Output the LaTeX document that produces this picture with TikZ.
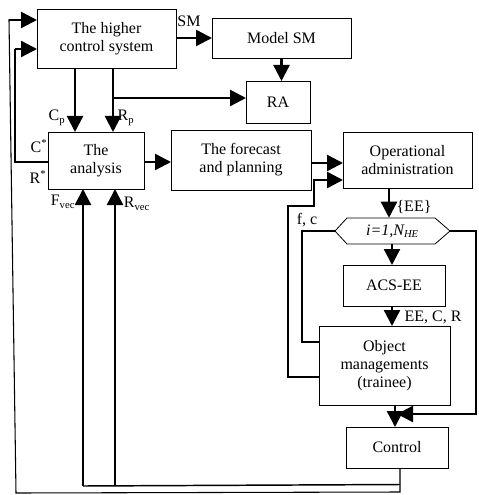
\documentclass[tikz,border=0pt]{standalone}
\usepackage{fontspec}
\setmainfont{Liberation Serif}
\usetikzlibrary{arrows.meta}
\begin{document}
\begin{tikzpicture}[x=0.75pt,y=-0.75pt,
  every node/.style={font=\fontsize{12}{13.5}\selectfont},
  box/.style={draw,line width=0.6pt,align=center,inner sep=0pt,outer sep=0pt},
  arr/.style={line width=1.8pt,-{Triangle[length=12pt,width=12pt]}},
  thinln/.style={line width=0.8pt},
  lbl/.style={inner sep=0pt}]
\useasboundingbox (0,0) rectangle (478,495);
% boxes
\node[box,minimum width=139*0.75pt,minimum height=59*0.75pt] (hcs) at (106.5,38.5) {The higher\\control system};
\node[box,minimum width=139*0.75pt,minimum height=40*0.75pt] (msm) at (281.5,38) {Model SM};
\node[box,minimum width=64*0.75pt,minimum height=42*0.75pt] (ra) at (278,102) {RA};
\node[box,minimum width=96*0.75pt,minimum height=57*0.75pt] (ana) at (96,160.5) {The\\analysis};
\node[box,minimum width=140*0.75pt,minimum height=60*0.75pt] (fp) at (241,160) {The forecast\\and planning};
\node[box,minimum width=129*0.75pt,minimum height=56*0.75pt] (op) at (407.5,160) {Operational\\administration};
\draw[line width=0.6pt] (335,231) -- (347,218) -- (435,218) -- (450,231) -- (435,244) -- (347,244) -- cycle;
\node[inner sep=0pt,minimum width=115*0.75pt,minimum height=26*0.75pt] (hex) at (392.5,231) {\textit{i=1,N\textsubscript{HE}}};
\node[box,minimum width=102*0.75pt,minimum height=41*0.75pt] (acs) at (394,285.5) {ACS-EE};
\node[box,minimum width=131*0.75pt,minimum height=79*0.75pt] (obj) at (384.5,365.5) {Object\\managements\\(trainee)};
\node[box,minimum width=102*0.75pt,minimum height=41*0.75pt] (ctl) at (397,447.5) {Control};
% labels
\node[lbl] (lsm) at (189,21) {SM};
\node[lbl] (lcp) at (57,118) {C\textsubscript{p}};
\node[lbl] (lrp) at (126,118) {R\textsubscript{p}};
\node[lbl] (lcs) at (39,146) {C\textsuperscript{*}};
\node[lbl] (lrs) at (38,177) {R\textsuperscript{*}};
\node[lbl] (lfv) at (63,202) {F\textsubscript{vec}};
\node[lbl] (lrv) at (137,204) {R\textsubscript{vec}};
\node[lbl] (lee) at (414,207) {\{EE\}};
\node[lbl] (lfc) at (307,220) {f, c};
\node[lbl] (leecr) at (433,317) {EE, C, R};
% connectors
\draw[arr] (hcs.east |- msm.west) -- (msm.west);
\draw[arr] (msm.south) -- (msm.south |- ra.north);
\draw[arr] (hcs.south -| 75,0) -- (ana.north -| 75,0);
\draw[arr] (hcs.south -| 113,0) -- (ana.north -| 113,0);
\coordinate (rpb) at (113,98);
\draw[arr] (rpb) -- (ra.west |- rpb);
% analysis feedback to higher system
\coordinate (lp1) at (15,162);
\coordinate (lp2) at (15,49);
\draw[thinln] (ana.west |- lp1) -- (lp1) -- (lp2);
\draw[arr] (lp2) -- (hcs.west |- lp2);
\draw[arr] (ana.east |- lp1) -- (fp.west |- lp1);
\coordinate (fpo) at (311,163);
\draw[arr] (fpo) -- (op.west |- fpo);
\draw[arr] (op.south -| 389,0) -- (hex.north -| 389,0);
\draw[arr] (hex.south -| 392,0) -- (acs.north -| 392,0);
\draw[arr] (acs.south -| 392,0) -- (obj.north -| 392,0);
\draw[arr] (obj.south -| 395,0) -- (ctl.north -| 395,0);
% hexagon right loop
\coordinate (hr1) at (476,231);
\coordinate (hr2) at (476,414);
\coordinate (hr3) at (397,414);
\draw[thinln] (hex.east) -- (hr1) -- (hr2) -- ++(-10,0);
\draw[arr] (466,414) -- (hr3);
% hexagon left loop
\coordinate (hl1) at (302,231);
\coordinate (hl2) at (302,342);
\draw[thinln] (hex.west) -- (hl1) -- (hl2) -- (obj.west |- hl2);
% f, c loop
\coordinate (fc1) at (288,377);
\coordinate (fc2) at (288,206);
\coordinate (fc3) at (314,206);
\coordinate (fc4) at (314,180);
\draw[thinln] (obj.west |- fc1) -- (fc1) -- (fc2) -- (fc3) -- (fc4) -- ++(6,0);
\draw[arr] (fc4) -- (op.west |- fc4);
% control outputs
\coordinate (cb1) at (400,484.5);
\coordinate (cb2) at (400,492);
\coordinate (cb3) at (16,493);
\coordinate (cb4) at (9,20);
\coordinate (fvb) at (83,486);
\coordinate (rvb) at (115,485.8);
\draw[thinln] (ctl.south -| cb2) -- (cb2) -- (cb3) -- (cb4) -- ++(8,0);
\draw[arr] (cb4) -- (hcs.west |- cb4);
\draw[line width=1.1pt] (cb1) -- (fvb);
\draw[arr] (fvb) -- (ana.south -| fvb);
\draw[arr] (rvb) -- (ana.south -| rvb);
\end{tikzpicture}
\end{document}
